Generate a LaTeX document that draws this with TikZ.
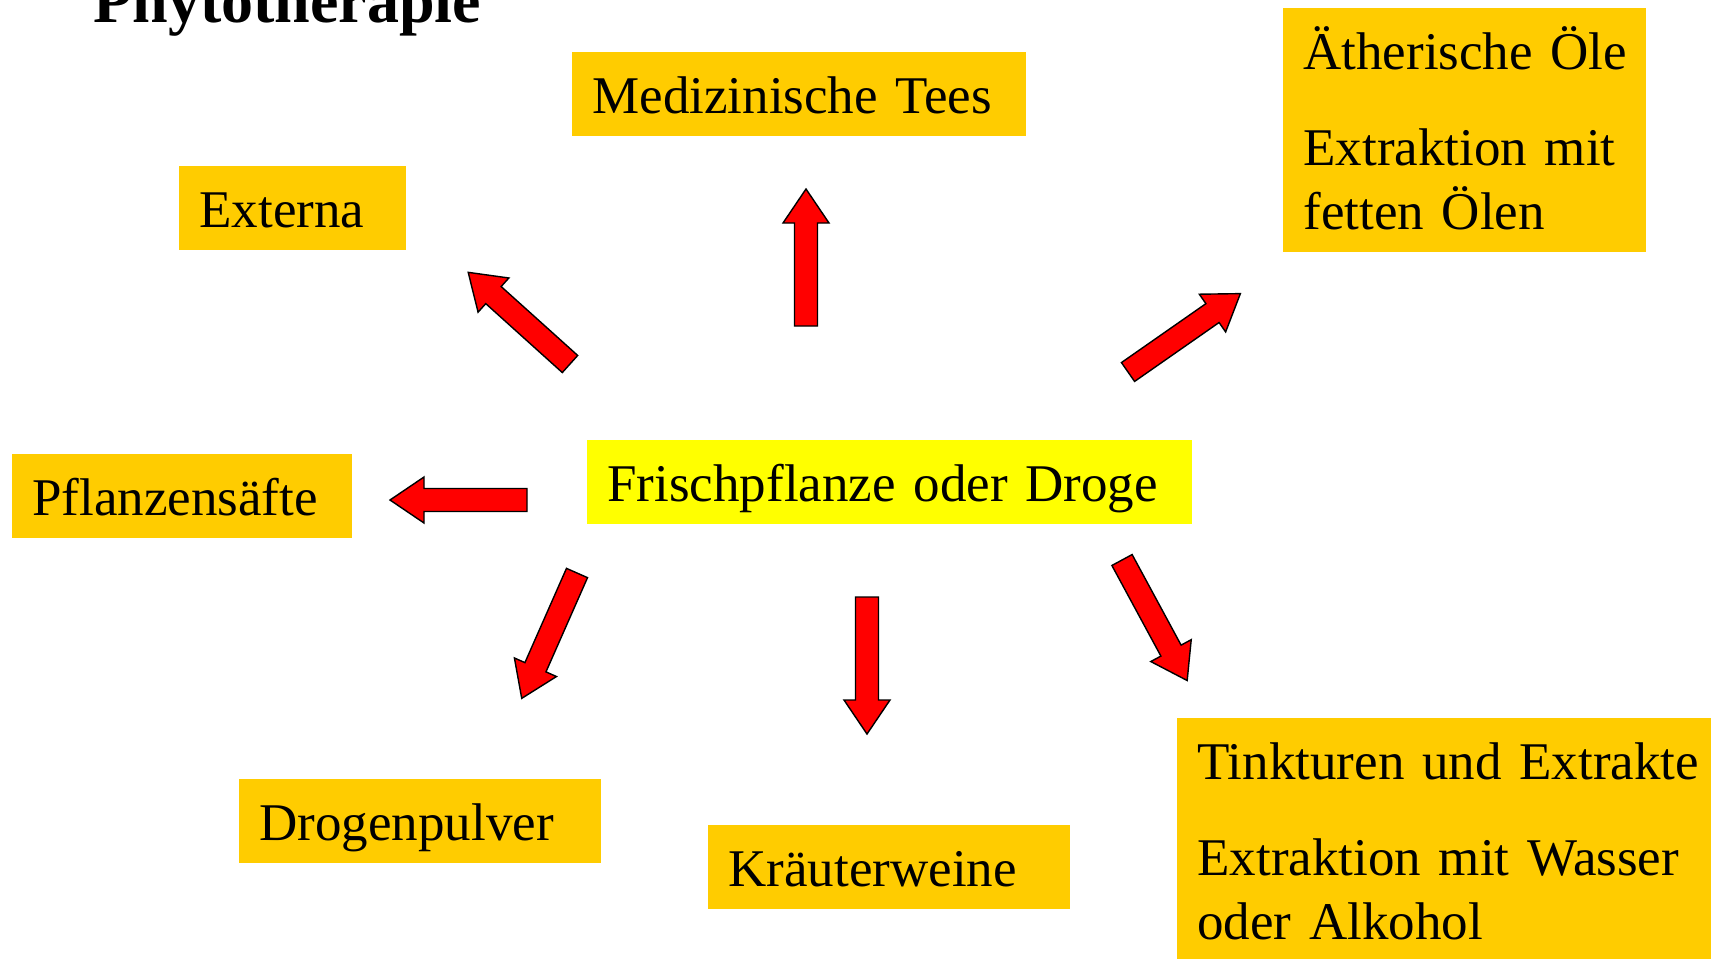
\documentclass[tikz,border=0pt]{standalone}
\usepackage{fontspec}
\setmainfont{Liberation Serif}
\usepackage{xcolor}
\usepackage{tikz}

\definecolor{boxorange}{HTML}{FFCC00}
\definecolor{boxyellow}{HTML}{FFFF00}
\definecolor{arrowred}{HTML}{FF0000}

\begin{document}
\begin{tikzpicture}[x=0.5pt, y=-0.5pt,
    topic/.style = {rectangle, fill=boxorange, anchor=north west,
                    inner xsep=10pt, inner ysep=0pt,
                    text height=30.5pt, text depth=11.5pt, align=left,
                    font=\fontsize{26.5}{32.2}\selectfont},
    source/.style = {topic, fill=boxyellow},
    pics/blockarrow/.style = {code={
        \draw[draw=black, fill=arrowred, line width=0.7pt]
          (0,-11.5) -- (103,-11.5) -- (103,-23) -- (137,0)
          -- (103,23) -- (103,11.5) -- (0,11.5) -- cycle;}}]
  \clip (0,0) rectangle (1711,958);

  \node (title) [anchor=base west, inner sep=0pt,
                 font=\fontsize{32}{38}\selectfont\bfseries] at (93,22) {Phytotherapie};

  % centre
  \node (frisch) [source, text width=282.5pt] at (587,440) {Frischpflanze oder Droge};

  % preparations
  \node (tees) [topic, text width=207pt] at (572,52) {Medizinische Tees};
  \node (externa) [topic, text width=93.5pt] at (179,166) {Externa};
  \node (oele) [topic, text width=161.5pt, text depth=91.5pt] at (1283,8)
        {Ätherische~Öle\\[15.7pt] Extraktion~mit\\ fetten Ölen};
  \node (saefte) [topic, text width=150pt] at (12,454) {Pflanzensäfte};
  \node (pulver) [topic, text width=161pt] at (239,779) {Drogenpulver};
  \node (wein) [topic, text width=161pt] at (708,825) {Kräuterweine};
  \node (tinkt) [topic, text width=265pt, text depth=140pt] at (1177,718)
        {Tinkturen und Extrakte\\[15.7pt] Extraktion mit Wasser\\ oder Alkohol};

  % arrows
  \pic (aexterna) [rotate=138] at (570,364) {blockarrow};
  \pic (atees) [rotate=90] at (806,326) {blockarrow};
  \pic (aoele) [rotate=34.9] at (1128,372) {blockarrow};
  \pic (asaefte) [rotate=180] at (527,500) {blockarrow};
  \pic (apulver) [rotate=246.2] at (577,573) {blockarrow};
  \pic (awein) [rotate=270] at (867,597) {blockarrow};
  \pic (atinkt) [rotate=-61.6] at (1122,560) {blockarrow};
\end{tikzpicture}
\end{document}
